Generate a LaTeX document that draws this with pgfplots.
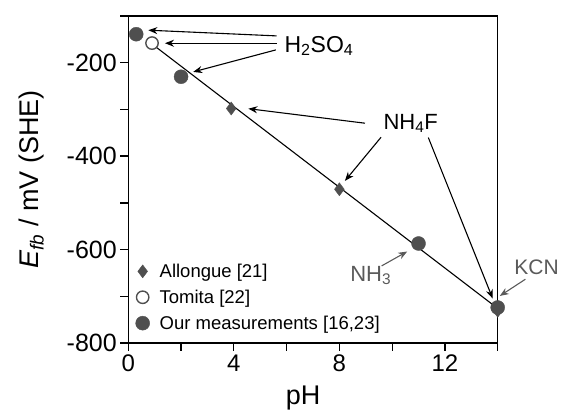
\documentclass[border=0pt]{standalone}
\usepackage{fontspec}
\setmainfont{Liberation Sans}
\usepackage{pgfplots}
\pgfplotsset{compat=1.18}
\usetikzlibrary{arrows.meta}

\definecolor{mk}{HTML}{4F4F4F}
\definecolor{note}{HTML}{5A5A5A}

\begin{document}
\begin{tikzpicture}
\begin{axis}[
  name=ax,
  scale only axis,
  width=369.4pt, height=327pt,
  xmin=0, xmax=14, ymin=-800, ymax=-100,
  xtick={0,2,...,14}, xticklabels={0,,4,,8,,12,},
  ytick={-800,-700,...,-100}, yticklabels={-800,,-600,,-400,,-200,},
  tick pos=left, tick align=outside,
  major tick length=8pt,
  axis line style={line width=1.3pt},
  every tick/.style={black, line width=1.3pt},
  /pgf/number format/assume math mode=true,
  ticklabel style={font=\fontsize{24}{26}\selectfont},
  yticklabel style={font=\fontsize{25}{26}\selectfont},
  xlabel={pH},
  ylabel={\textit{E}\textsubscript{\textit{fb}} / mV (SHE)},
  label style={font=\fontsize{27}{30}\selectfont},
  xlabel style={at={(axis description cs:0.473,-0.168)}, anchor=center},
  ylabel style={at={(axis description cs:-0.262,0.5)}, anchor=center},
  clip=false,
  legend cell align=left,
  legend style={draw=none, fill=none, font=\fontsize{18.5}{20}\selectfont,
    at={(axis description cs:0.014,0.025)}, anchor=south west,
    row sep=7pt, inner sep=2pt,
    /tikz/every odd column/.append style={column sep=8pt}},
  legend image code/.code={\draw[#1] plot coordinates {(11pt,0pt)};},
]
% fitted line
\addplot[black, line width=1.1pt, forget plot] coordinates {(0.9,-160) (14,-726)};

% Allongue
\addplot[only marks, mark=diamond*, mark size=6.5pt, mk, mark options={fill=mk, draw=mk}]
  coordinates {(3.9,-298) (8,-471) (14,-731)};
\addlegendentry{Allongue [21]}

% Tomita
\addplot[only marks, mark=*, mark size=6.2pt, mk, mark options={fill=white, draw=mk, line width=1.4pt}]
  coordinates {(0.9,-158)};
\addlegendentry{Tomita [22]}

% own measurements
\addplot[only marks, mark=*, mark size=7pt, mk, mark options={fill=mk, draw=mk}]
  coordinates {(0.3,-139) (2,-230) (11,-587) (14,-724)};
\addlegendentry{Our measurements [16,23]}

% annotations
\node[anchor=base west, font=\fontsize{23}{26}\selectfont] at (axis cs:5.79,-177.5) {H\textsubscript{2}SO\textsubscript{4}};
\draw[line width=1.1pt, -{Stealth[length=9pt,width=7pt]}] (axis cs:5.62,-142.6) -- (axis cs:0.76,-130.4);
\draw[line width=1.1pt, -{Stealth[length=9pt,width=7pt]}] (axis cs:5.62,-158.3) -- (axis cs:1.39,-158.3);
\draw[line width=1.1pt, -{Stealth[length=9pt,width=7pt]}] (axis cs:5.59,-172.6) -- (axis cs:2.46,-219.7);

\node[anchor=base west, font=\fontsize{22}{26}\selectfont] at (axis cs:9.54,-342.4) {NH\textsubscript{4}F};
\draw[line width=1.1pt, -{Stealth[length=9pt,width=7pt]}] (axis cs:8.97,-329.5) -- (axis cs:4.55,-298.4);
\draw[line width=1.1pt, -{Stealth[length=9pt,width=7pt]}] (axis cs:9.58,-359.5) -- (axis cs:8.21,-453);
\draw[line width=1.1pt, -{Stealth[length=9pt,width=7pt]}] (axis cs:11.37,-360.1) -- (axis cs:13.81,-704.8);

\node[anchor=base west, text=note, font=\fontsize{22}{26}\selectfont] at (axis cs:8.28,-667.8) {NH\textsubscript{3}};
\draw[note, line width=1.1pt, -{Stealth[length=9pt,width=7pt]}] (axis cs:9.60,-635) -- (axis cs:10.57,-604.2);

\node[anchor=base west, text=note, font=\fontsize{21}{26}\selectfont] at (axis cs:14.50,-652.8) {KCN};
\draw[note, line width=1.1pt, -{Stealth[length=9pt,width=7pt]}] (axis cs:15.05,-663.5) -- (axis cs:14.08,-699.3);
\end{axis}
\pgfresetboundingbox
\path[use as bounding box] ([shift={(-128.3pt,-73pt)}]ax.south west) rectangle ([shift={(65.3pt,16pt)}]ax.north east);
\end{tikzpicture}
\end{document}
